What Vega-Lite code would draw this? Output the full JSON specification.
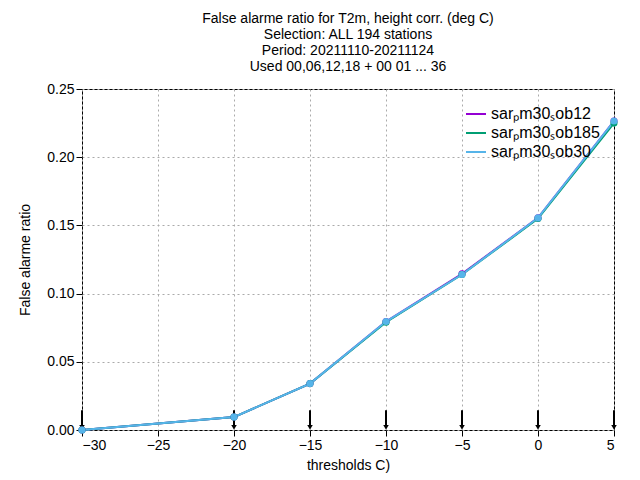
{
  "$schema": "https://vega.github.io/schema/vega-lite/v6.json",
  "width": 532,
  "height": 341,
  "padding": {"left": 82, "top": 89, "right": 26, "bottom": 50},
  "autosize": "none",
  "background": "white",
  "config": {
    "font": "Liberation Sans",
    "view": {"stroke": "black", "strokeWidth": 1},
    "axis": {"labelFont": "Liberation Sans", "titleFont": "Liberation Sans", "labelFontSize": 14, "titleFontSize": 14, "titleFontWeight": "normal", "labelColor": "black", "titleColor": "black", "domain": false, "tickColor": "black", "tickSize": 6, "gridColor": "#aaaaaa", "gridDash": [2, 3], "grid": true}
  },
  "title": {
    "text": ["False alarme ratio  for T2m, height corr. (deg C)", "Selection: ALL    194 stations", "Period: 20211110-20211124", "Used 00,06,12,18 + 00 01 ... 36"],
    "fontSize": 14, "fontWeight": "normal", "font": "Liberation Sans", "lineHeight": 16, "offset": 8, "anchor": "middle"
  },
  "datasets": {
    "lines": [
      {"t": -30, "v": 0.0, "s": "sarₚm30ₛob12"},
      {"t": -20, "v": 0.0095, "s": "sarₚm30ₛob12"},
      {"t": -15, "v": 0.034, "s": "sarₚm30ₛob12"},
      {"t": -10, "v": 0.0795, "s": "sarₚm30ₛob12"},
      {"t": -5, "v": 0.1145, "s": "sarₚm30ₛob12"},
      {"t": 0, "v": 0.1555, "s": "sarₚm30ₛob12"},
      {"t": 5, "v": 0.2265, "s": "sarₚm30ₛob12"},
      {"t": -30, "v": 0.0, "s": "sarₚm30ₛob185"},
      {"t": -20, "v": 0.0095, "s": "sarₚm30ₛob185"},
      {"t": -15, "v": 0.034, "s": "sarₚm30ₛob185"},
      {"t": -10, "v": 0.079, "s": "sarₚm30ₛob185"},
      {"t": -5, "v": 0.114, "s": "sarₚm30ₛob185"},
      {"t": 0, "v": 0.155, "s": "sarₚm30ₛob185"},
      {"t": 5, "v": 0.225, "s": "sarₚm30ₛob185"},
      {"t": -30, "v": 0.0, "s": "sarₚm30ₛob30"},
      {"t": -20, "v": 0.0095, "s": "sarₚm30ₛob30"},
      {"t": -15, "v": 0.034, "s": "sarₚm30ₛob30"},
      {"t": -10, "v": 0.0795, "s": "sarₚm30ₛob30"},
      {"t": -5, "v": 0.114, "s": "sarₚm30ₛob30"},
      {"t": 0, "v": 0.1555, "s": "sarₚm30ₛob30"},
      {"t": 5, "v": 0.2265, "s": "sarₚm30ₛob30"}
    ],
    "arrows": [
      {"t": -30, "lo": 0.002, "hi": 0.0145},
      {"t": -20, "lo": 0.002, "hi": 0.0145},
      {"t": -15, "lo": 0.002, "hi": 0.0145},
      {"t": -10, "lo": 0.002, "hi": 0.0145},
      {"t": -5, "lo": 0.002, "hi": 0.0145},
      {"t": 0, "lo": 0.002, "hi": 0.0145},
      {"t": 5, "lo": 0.002, "hi": 0.0145}
    ]
  },
  "layer": [
    {
      "data": {"name": "arrows"},
      "mark": {"type": "rule", "color": "black", "strokeWidth": 2},
      "encoding": {
        "x": {"field": "t", "type": "quantitative", "scale": {"domain": [-30, 5], "nice": false}, "axis": {"values": [-30, -25, -20, -15, -10, -5, 0, 5], "title": "thresholds C)", "titlePadding": 6}},
        "y": {"field": "lo", "type": "quantitative"},
        "y2": {"field": "hi"}
      }
    },
    {
      "data": {"name": "arrows"},
      "mark": {"type": "point", "shape": "triangle-down", "filled": true, "color": "black", "size": 30, "opacity": 1},
      "encoding": {
        "x": {"field": "t", "type": "quantitative"},
        "y": {"field": "lo", "type": "quantitative"}
      }
    },
    {
      "data": {"name": "lines"},
      "mark": {"type": "line", "strokeWidth": 2, "point": {"filled": true, "size": 50}},
      "encoding": {
        "x": {"field": "t", "type": "quantitative"},
        "y": {"field": "v", "type": "quantitative", "scale": {"domain": [0, 0.25], "nice": false}, "axis": {"values": [0, 0.05, 0.1, 0.15, 0.2, 0.25], "title": "False alarme ratio", "titlePadding": 14}},
        "color": {
          "field": "s", "type": "nominal",
          "scale": {"domain": ["sarₚm30ₛob12", "sarₚm30ₛob185", "sarₚm30ₛob30"], "range": ["#9400d3", "#009e73", "#56b4e9"]},
          "legend": {"title": null, "orient": "top-right", "offset": 14, "labelFontSize": 16, "labelFont": "Liberation Sans", "symbolType": "stroke", "symbolSize": 400, "symbolStrokeWidth": 2, "rowPadding": 0, "labelLimit": 300}
        }
      }
    }
  ]
}
